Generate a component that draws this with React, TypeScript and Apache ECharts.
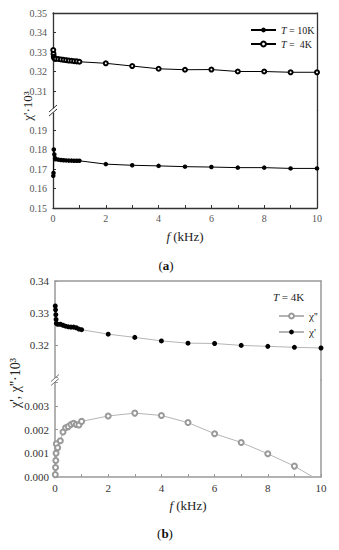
import React, { useEffect, useRef } from 'react';
import * as echarts from 'echarts';

// ---------- data ----------
// (a) chi' vs frequency at two temperatures
const freqA = [0.01, 0.02, 0.03, 0.05, 0.08, 0.1, 0.2, 0.3, 0.4, 0.5, 0.6, 0.7, 0.8, 0.9, 1, 2, 3, 4, 5, 6, 7, 8, 9, 10];
const chiA10K = [0.1665, 0.168, 0.18, 0.1775, 0.1755, 0.175, 0.1748, 0.1746, 0.1745, 0.1744, 0.1743, 0.1743, 0.1742, 0.1742, 0.1742, 0.1725, 0.1719, 0.1716, 0.1712, 0.171, 0.1707, 0.1707, 0.1703, 0.1703];
const chiA4K = [0.331, 0.329, 0.3275, 0.3268, 0.3266, 0.3265, 0.3264, 0.3262, 0.326, 0.3258, 0.3256, 0.3255, 0.3253, 0.3252, 0.325, 0.3242, 0.3228, 0.3214, 0.3209, 0.321, 0.32, 0.32, 0.3196, 0.3196];

// (b) chi' and chi'' at T = 4K
const freqB = [0.01, 0.02, 0.03, 0.04, 0.05, 0.1, 0.2, 0.3, 0.4, 0.5, 0.6, 0.7, 0.8, 0.9, 1, 2, 3, 4, 5, 6, 7, 8, 9, 10];
const chiB1 = [0.3322, 0.331, 0.3295, 0.328, 0.3268, 0.3265, 0.3265, 0.3262, 0.3259, 0.3257, 0.3256, 0.3256, 0.3254, 0.325, 0.3248, 0.3234, 0.3224, 0.3213, 0.3206, 0.3205, 0.3199, 0.3196, 0.3193, 0.3191];
const chiB2 = [0.0001, 0.0004, 0.0007, 0.001, 0.0014, 0.00124, 0.00153, 0.0019, 0.00208, 0.00213, 0.00222, 0.00227, 0.00222, 0.0022, 0.00235, 0.00258, 0.0027, 0.0026, 0.0023, 0.00183, 0.00146, 0.00098, 0.00046, -0.0002];

// tick labels
const xTickLabels = [0, 2, 4, 6, 8, 10];
const yTicksAUpper = [0.31, 0.32, 0.33, 0.34, 0.35];
const yTicksALower = [0.15, 0.16, 0.17, 0.18, 0.19];
const yTicksBUpper = [0.32, 0.33, 0.34];
const yTicksBLower = [0, 0.001, 0.002, 0.003];

const SERIF = 'Liberation Serif';
const pair = (xs: number[], ys: number[]) => xs.map((x, i) => [x, ys[i]]);
const near = (list: number[], v: number) => list.some((t) => Math.abs(t - v) < 1e-7);

const A_FRAME = '#333';
const B_FRAME = '#999';

function yLeft(gridIndex: number, min: number, max: number, interval: number | undefined, labels: number[], digits: number, frame: string, width: number, labelColor: string, fontSize: number) {
  const ax: any = {
    type: 'value', gridIndex, position: 'left', min, max,
    axisLine: { show: true, onZero: false, lineStyle: { color: frame, width } },
    axisTick: { show: true, inside: true, length: 3, lineStyle: { color: frame, width: 1 } },
    axisLabel: { margin: 6, fontFamily: SERIF, fontSize, color: labelColor, formatter: (v: number) => (near(labels, v) ? v.toFixed(digits) : '') },
    splitLine: { show: false },
  };
  if (interval !== undefined) ax.interval = interval; else ax.splitNumber = 3;
  return ax;
}
function yRight(gridIndex: number, min: number, max: number, frame: string, width: number) {
  return {
    type: 'value', gridIndex, position: 'right', min, max,
    axisLine: { show: true, onZero: false, lineStyle: { color: frame, width } },
    axisTick: { show: false }, axisLabel: { show: false }, splitLine: { show: false },
  };
}
function xTop(gridIndex: number, frame: string, width: number) {
  return {
    type: 'value', gridIndex, position: 'top', min: 0, max: 10,
    axisLine: { show: true, onZero: false, lineStyle: { color: frame, width } },
    axisTick: { show: false }, axisLabel: { show: false }, splitLine: { show: false },
  };
}
function xBottom(gridIndex: number, frame: string, width: number, labelColor: string, fontSize: number, nameGap: number) {
  return {
    type: 'value', gridIndex, position: 'bottom', min: 0, max: 10, interval: 1,
    axisLine: { show: true, onZero: false, lineStyle: { color: frame, width } },
    axisTick: { show: true, inside: true, length: 3, lineStyle: { color: frame, width: 1 } },
    axisLabel: { margin: 5, fontFamily: SERIF, fontSize, color: labelColor, formatter: (v: number) => (near(xTickLabels, v) ? String(v) : '') },
    splitLine: { show: false },
    name: '{i|f} (kHz)', nameLocation: 'middle', nameGap,
    nameTextStyle: { fontFamily: SERIF, fontSize: 13, color: '#222', rich: { i: { fontFamily: SERIF, fontSize: 13, fontStyle: 'italic', color: '#222' } } },
  };
}

export default function App() {
  const ref = useRef<HTMLDivElement>(null);
  useEffect(() => {
    if (!ref.current) return;
    const chart = echarts.init(ref.current, undefined, { renderer: 'svg' });
    const option: any = {
      animation: false,
      backgroundColor: '#fff',
      textStyle: { fontFamily: SERIF },
      grid: [
        { left: 53, right: 22, top: 13, height: 97.5, outerBoundsMode: 'none' },
        { left: 53, right: 22, top: 110.5, height: 97.5, outerBoundsMode: 'none' },
        { left: 55, right: 18, top: 281, height: 99, outerBoundsMode: 'none' },
        { left: 55, right: 18, top: 380, height: 97, outerBoundsMode: 'none' },
      ],
      xAxis: [
        xTop(0, A_FRAME, 1.3),
        xBottom(1, A_FRAME, 1.3, '#555', 10, 22),
        xTop(2, B_FRAME, 1.5),
        xBottom(3, B_FRAME, 1.5, '#333', 11, 22),
      ],
      yAxis: [
        yLeft(0, 0.3, 0.35, 0.01, yTicksAUpper, 2, A_FRAME, 1.3, '#555', 10),
        yRight(0, 0.3, 0.35, A_FRAME, 1.3),
        yLeft(1, 0.15, 0.2, 0.01, yTicksALower, 2, A_FRAME, 1.3, '#555', 10),
        yRight(1, 0.15, 0.2, A_FRAME, 1.3),
        yLeft(2, 0.3091, 0.34, undefined, yTicksBUpper, 2, B_FRAME, 1.5, '#333', 11),
        yRight(2, 0.3091, 0.34, B_FRAME, 1.5),
        yLeft(3, 0, 0.0041, 0.001, yTicksBLower, 3, B_FRAME, 1.5, '#333', 11),
        yRight(3, 0, 0.0041, B_FRAME, 1.5),
      ],
      legend: [
        {
          data: ['T = 10K', 'T = 4K'], orient: 'vertical', left: 245, top: 19,
          itemWidth: 25, itemHeight: 6, itemGap: 2,
          formatter: (n: string) => (n === 'T = 10K' ? '{i|T} = 10K' : '{i|T} =  4K'),
          textStyle: { fontFamily: SERIF, fontSize: 10, color: '#222', lineHeight: 12,
            rich: { i: { fontFamily: SERIF, fontSize: 10, fontStyle: 'italic', color: '#222' } } },
        },
        {
          data: ["χ''", "χ'"], orient: 'vertical', left: 273, top: 305,
          itemWidth: 25, itemHeight: 6, itemGap: 4,
          textStyle: { fontFamily: SERIF, fontSize: 11, color: '#222', lineHeight: 12 },
        },
      ],
      series: [
        {
          name: 'T = 10K', type: 'line', xAxisIndex: 1, yAxisIndex: 2, data: pair(freqA, chiA10K),
          symbol: 'circle', symbolSize: 4.5, showAllSymbol: true,
          itemStyle: { color: '#000' }, lineStyle: { color: '#000', width: 1 },
        },
        {
          name: 'T = 4K', type: 'line', xAxisIndex: 0, yAxisIndex: 0, data: pair(freqA, chiA4K),
          symbol: 'emptyCircle', symbolSize: 4, showAllSymbol: true,
          itemStyle: { color: '#000', borderColor: '#000', borderWidth: 1 }, lineStyle: { color: '#000', width: 1 },
        },
        {
          name: "χ''", type: 'line', xAxisIndex: 3, yAxisIndex: 6, data: pair(freqB, chiB2), clip: true,
          symbol: 'emptyCircle', symbolSize: 5, showAllSymbol: true,
          itemStyle: { color: '#999', borderColor: '#999', borderWidth: 1 }, lineStyle: { color: '#b5b5b5', width: 1 },
        },
        {
          name: "χ'", type: 'line', xAxisIndex: 2, yAxisIndex: 4, data: pair(freqB, chiB1), clip: true,
          symbol: 'circle', symbolSize: 5, showAllSymbol: true,
          itemStyle: { color: '#000' }, lineStyle: { color: '#b5b5b5', width: 1 },
        },
      ],
      graphic: [
        // axis-break marks (a)
        { type: 'rect', z: 100, shape: { x: 50, y: 108.5, width: 6, height: 4 }, style: { fill: '#fff' } },
        { type: 'line', z: 101, shape: { x1: 49, y1: 112, x2: 57, y2: 105 }, style: { stroke: A_FRAME, lineWidth: 1 } },
        { type: 'line', z: 101, shape: { x1: 49, y1: 116, x2: 57, y2: 109 }, style: { stroke: A_FRAME, lineWidth: 1 } },
        // axis-break marks (b)
        { type: 'rect', z: 100, shape: { x: 52, y: 378, width: 6, height: 4 }, style: { fill: '#fff' } },
        { type: 'line', z: 101, shape: { x1: 51, y1: 381.5, x2: 59, y2: 374.5 }, style: { stroke: '#777', lineWidth: 1 } },
        { type: 'line', z: 101, shape: { x1: 51, y1: 385.5, x2: 59, y2: 378.5 }, style: { stroke: '#777', lineWidth: 1 } },
        // y titles
        { type: 'text', z: 100, x: 27, y: 106, rotation: Math.PI / 2,
          style: { text: "χ'·10³", fontFamily: SERIF, fontSize: 13, fill: '#222', textAlign: 'center', textVerticalAlign: 'middle' } },
        { type: 'text', z: 100, x: 15, y: 383, rotation: Math.PI / 2,
          style: { text: "χ', χ''·10³", fontFamily: SERIF, fontSize: 14, fill: '#222', textAlign: 'center', textVerticalAlign: 'middle' } },
        // legend header (b)
        { type: 'text', z: 100, x: 273, y: 297,
          style: { text: '{i|T} = 4K', fontFamily: SERIF, fontSize: 11, fill: '#222', textAlign: 'left', textVerticalAlign: 'middle',
            rich: { i: { fontFamily: SERIF, fontSize: 11, fontStyle: 'italic', fill: '#222' } } } },
        // panel captions
        { type: 'text', z: 100, x: 166, y: 265,
          style: { text: '({b|a})', fontFamily: SERIF, fontSize: 13, fill: '#111', textAlign: 'center', textVerticalAlign: 'middle',
            rich: { b: { fontFamily: SERIF, fontSize: 13, fontWeight: 'bold', fill: '#111' } } } },
        { type: 'text', z: 100, x: 165, y: 533,
          style: { text: '({b|b})', fontFamily: SERIF, fontSize: 13, fill: '#111', textAlign: 'center', textVerticalAlign: 'middle',
            rich: { b: { fontFamily: SERIF, fontSize: 13, fontWeight: 'bold', fill: '#111' } } } },
      ],
    };
    chart.setOption(option);
    return () => chart.dispose();
  }, []);
  return <div ref={ref} style={{ position: 'fixed', left: 0, top: 0, width: 339, height: 550 }} />;
}
